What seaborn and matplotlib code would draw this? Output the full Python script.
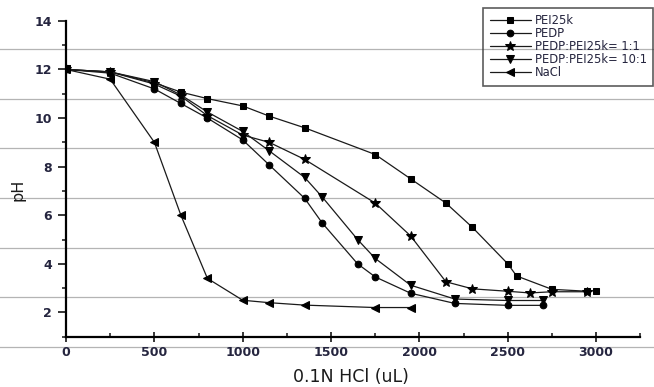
from matplotlib import pyplot as plt
import pandas as pd
import seaborn as sns

# **************************************************************************
# titration data

pei_x = [0, 250, 500, 650, 800, 1000, 1150, 1350, 1750, 1950, 2150, 2300, 2500, 2550, 2750, 2950, 3000]
pei_y = [12.0, 11.9, 11.45, 11.07, 10.8, 10.5, 10.08, 9.6, 8.5, 7.5, 6.5, 5.5, 4.0, 3.5, 2.95, 2.87, 2.9]

pedp_x = [0, 250, 500, 650, 800, 1000, 1150, 1350, 1450, 1650, 1750, 1950, 2200, 2500, 2700]
pedp_y = [12.0, 11.85, 11.2, 10.6, 10.0, 9.1, 8.07, 6.7, 5.68, 4.0, 3.46, 2.79, 2.37, 2.29, 2.29]

mix11_x = [0, 250, 500, 650, 800, 1000, 1150, 1350, 1750, 1950, 2150, 2300, 2500, 2625, 2750, 2950]
mix11_y = [12.0, 11.9, 11.4, 10.9, 10.1, 9.3, 9.0, 8.3, 6.5, 5.15, 3.26, 2.97, 2.87, 2.8, 2.85, 2.85]

mix101_x = [0, 250, 500, 650, 800, 1000, 1150, 1350, 1450, 1650, 1750, 1950, 2200, 2500, 2700]
mix101_y = [12.0, 11.9, 11.5, 10.95, 10.25, 9.45, 8.65, 7.56, 6.75, 5.0, 4.22, 3.12, 2.55, 2.49, 2.49]

nacl_x = [0, 250, 500, 650, 800, 1000, 1150, 1350, 1750, 1950]
nacl_y = [12.0, 11.6, 9.0, 6.0, 3.4, 2.5, 2.4, 2.3, 2.2, 2.2]

labels = ['PEI25k', 'PEDP', 'PEDP:PEI25k= 1:1', 'PEDP:PEI25k= 10:1', 'NaCl']

# gray page lines that run behind the scanned chart
page_lines = [12.84, 10.80, 8.76, 6.71, 4.65, 2.62, 0.58]


# **************************************************************************


def titration_plot():
    sns.set_style('white')
    plt.rcParams['font.family'] = ['DejaVu Sans']

    fig = plt.figure(figsize=(6.54, 3.87), dpi=100)
    ax = fig.add_axes([0.101, 0.130, 0.878, 0.816])

    # the background lines go across the whole picture
    for y in page_lines:
        ax.axhline(y, xmin=-0.12, xmax=1.03, color='#b4b4b4', lw=0.9,
                   clip_on=False, zorder=0)

    series = [(pei_x, pei_y, 's', 4.8),
              (pedp_x, pedp_y, 'o', 4.8),
              (mix11_x, mix11_y, '*', 7.5),
              (mix101_x, mix101_y, 'v', 6.2),
              (nacl_x, nacl_y, '<', 6.2)]

    for (xs, ys, mk, ms), lab in zip(series, labels):
        df = pd.DataFrame({'x': xs, 'y': ys})
        sns.lineplot(data=df, x='x', y='y', ax=ax, color='#1a1a1a', lw=0.9,
                     marker=mk, markersize=ms, markeredgecolor='black',
                     markerfacecolor='black', label=lab, sort=False)

    ax.set_xlim(0, 3250)
    ax.set_ylim(1, 14)
    ax.set_xticks([0, 500, 1000, 1500, 2000, 2500, 3000])
    ax.set_xticks(range(250, 3251, 500), minor=True)
    ax.set_yticks([2, 4, 6, 8, 10, 12, 14])
    ax.set_yticks([1, 3, 5, 7, 9, 11, 13], minor=True)

    for side in ['top', 'right']:
        ax.spines[side].set_visible(False)
    for side in ['left', 'bottom']:
        ax.spines[side].set_linewidth(1.6)
        ax.spines[side].set_color('black')

    ax.tick_params(bottom=True, left=True, which='both')
    ax.tick_params(axis='both', which='major', labelsize=9, labelcolor='#25253f', width=1.3)
    ax.tick_params(axis='y', which='major', direction='out', length=6, pad=4)
    ax.tick_params(axis='y', which='minor', direction='out', length=3, width=1.2)
    ax.tick_params(axis='x', which='major', direction='inout', length=7, pad=3)
    ax.tick_params(axis='x', which='minor', direction='in', length=3, width=1.2)
    for t in ax.get_xticklabels() + ax.get_yticklabels():
        t.set_fontweight('bold')

    ax.set_xlabel('0.1N HCl (uL)', fontsize=12.5, color='#1a1a1a')
    ax.set_ylabel('pH', fontsize=11.5, color='#1a1a1a')
    ax.xaxis.set_label_coords(0.497, -0.098)
    ax.yaxis.set_label_coords(-0.071, 0.465)

    # legend box sticks out past the right end of the x axis, like the original
    leg = ax.legend(loc='upper right', bbox_to_anchor=(653 / 654, 1 - 8 / 387),
                    bbox_transform=fig.transFigure, borderaxespad=0,
                    fontsize=8.3, frameon=True, fancybox=False,
                    handlelength=3.6, handletextpad=0.3, labelspacing=0.0,
                    borderpad=0.55)
    leg.get_frame().set_edgecolor('#333333')
    leg.get_frame().set_linewidth(1.2)
    leg.get_frame().set_facecolor('none')
    for t in leg.get_texts():
        t.set_color('#25253f')

    fig.savefig('out.png', dpi=100)


# **************************************************************************


titration_plot()
